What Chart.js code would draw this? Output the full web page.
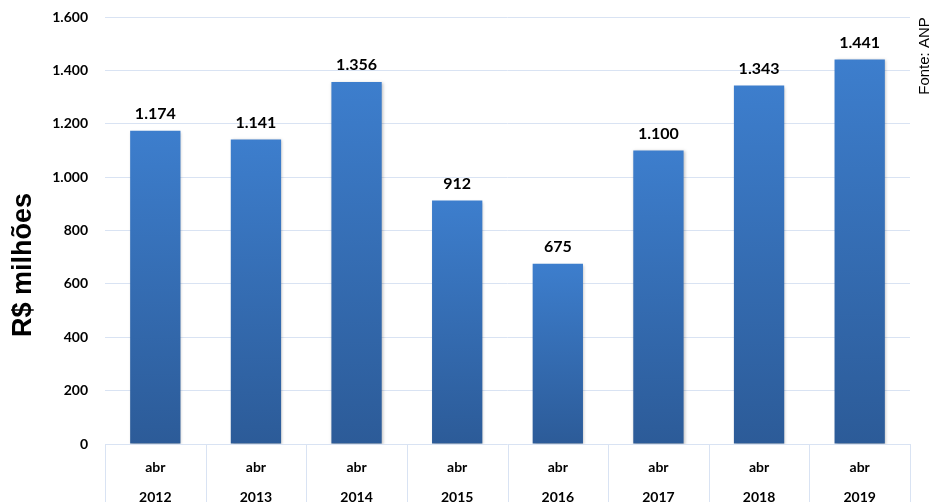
<!DOCTYPE html>
<html>
<head>
<meta charset="utf-8">
<script src="https://cdn.jsdelivr.net/npm/chart.js@4"></script>
<style>
  html, body { margin: 0; padding: 0; background: #fff; }
  #wrap { width: 931px; height: 502px; }
</style>
</head>
<body>
<div id="wrap"><canvas id="receita"></canvas></div>
<script>
// Receita em abril de cada ano (R$ milhões)
const meses = ['abr', 'abr', 'abr', 'abr', 'abr', 'abr', 'abr', 'abr'];
const anos = ['2012', '2013', '2014', '2015', '2016', '2017', '2018', '2019'];
const valores = [1174, 1141, 1356, 912, 675, 1100, 1343, 1441];
const yMax = 1600;
const yStep = 200;

const gridColor = '#d9e3f3';
const barTop = '#3d7ecd';
const barBottom = '#2c5b98';

// 1234 -> "1.234"
function fmt(v) {
  return String(v).replace(/\B(?=(\d{3})+(?!\d))/g, '.');
}

// gradiente vertical em cada barra
function barGradient(ctx) {
  const chart = ctx.chart;
  if (!chart.chartArea || ctx.type !== 'data') return barTop;
  const y = chart.scales.y;
  const top = y.getPixelForValue(ctx.parsed.y);
  const base = y.getPixelForValue(0);
  const g = chart.ctx.createLinearGradient(0, top, 0, base);
  g.addColorStop(0, barTop);
  g.addColorStop(1, barBottom);
  return g;
}

// valores em cima das barras, separadores do eixo x, titulos laterais
const extras = {
  id: 'extras',
  beforeDatasetsDraw(chart) {
    const c = chart.ctx;
    c.save();
    c.shadowColor = 'rgba(0,0,0,0.25)';
    c.shadowBlur = 3;
    c.shadowOffsetX = 1;
    c.shadowOffsetY = 1;
  },
  afterDatasetsDraw(chart) {
    const c = chart.ctx;
    c.restore();
    const meta = chart.getDatasetMeta(0);
    c.save();
    c.fillStyle = '#000';
    c.font = 'bold 16px Lato';
    c.textAlign = 'center';
    c.textBaseline = 'middle';
    meta.data.forEach((bar, i) => {
      c.fillText(fmt(valores[i]), bar.x, bar.y - 17);
    });
    c.restore();
  },
  afterDraw(chart) {
    const c = chart.ctx;
    const area = chart.chartArea;
    const x = chart.scales.x;
    const half = (x.getPixelForValue(1) - x.getPixelForValue(0)) / 2;
    c.save();
    c.strokeStyle = gridColor;
    c.lineWidth = 1;
    c.beginPath();
    for (let i = 0; i <= anos.length; i++) {
      const px = Math.round(x.getPixelForValue(0) - half + i * half * 2) + 0.5;
      c.moveTo(px, area.bottom);
      c.lineTo(px, chart.height);
    }
    c.stroke();

    c.fillStyle = '#000';
    c.font = 'bold 27px "Liberation Sans"';
    c.textAlign = 'center';
    c.textBaseline = 'middle';
    c.translate(24, 265);
    c.rotate(-Math.PI / 2);
    c.fillText('R$ milhões', 0, 0);
    c.restore();

    c.save();
    c.fillStyle = '#000';
    c.font = '15px "Liberation Sans"';
    c.textAlign = 'center';
    c.textBaseline = 'middle';
    c.translate(925, 56);
    c.rotate(-Math.PI / 2);
    c.fillText('Fonte: ANP', 0, 0);
    c.restore();
  }
};

new Chart(document.getElementById('receita'), {
  type: 'bar',
  data: {
    labels: anos.map((a, i) => [meses[i], a]),
    datasets: [{
      data: valores,
      backgroundColor: barGradient,
      borderWidth: 0,
      barPercentage: 0.5,
      categoryPercentage: 1
    }]
  },
  options: {
    responsive: true,
    maintainAspectRatio: false,
    animation: false,
    layout: { padding: { top: 17, right: 21, bottom: 0, left: 0 } },
    plugins: {
      legend: { display: false },
      tooltip: { enabled: false }
    },
    scales: {
      x: {
        grid: { display: false },
        border: { display: false },
        ticks: {
          color: '#000',
          font: { family: 'Lato', weight: 'bold', size: 14, lineHeight: 2.15 },
          padding: 0,
          maxRotation: 0
        },
        afterFit(scale) {
          scale.height = 58;
          scale.paddingTop = 0;
          scale.paddingBottom = 0;
        }
      },
      y: {
        min: 0,
        max: yMax,
        grid: { color: gridColor, drawTicks: false },
        border: { display: false },
        ticks: {
          stepSize: yStep,
          color: '#000',
          font: { family: 'Lato', weight: 'bold', size: 14 },
          padding: 17,
          callback: v => fmt(v)
        },
        afterFit(scale) {
          scale.width = 105;
          scale.paddingTop = 0;
          scale.paddingBottom = 0;
        }
      }
    }
  },
  plugins: [extras]
});
</script>
</body>
</html>
